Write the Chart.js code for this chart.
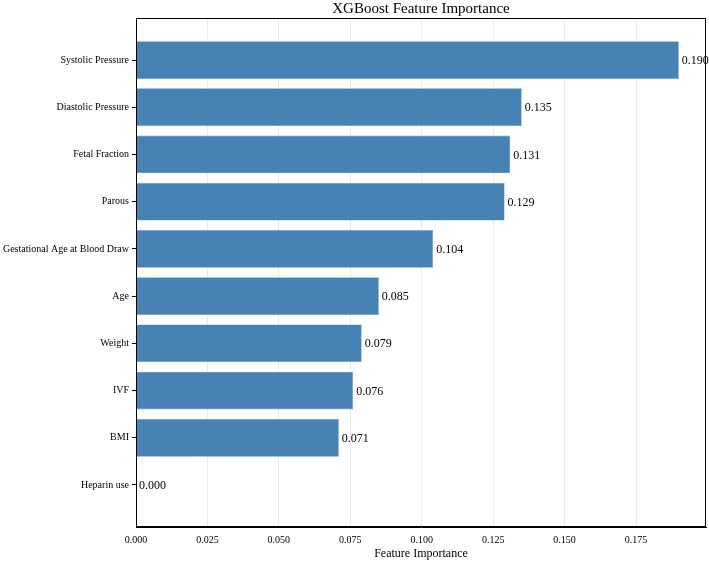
<!DOCTYPE html>
<html>
<head>
<meta charset="utf-8">
<script src="https://cdn.jsdelivr.net/npm/chart.js@4.4.0/dist/chart.umd.min.js"></script>
<style>
  html, body { margin: 0; padding: 0; background: #fff; }
  #wrap { width: 709px; height: 561px; }
</style>
</head>
<body>
<div id="wrap"><canvas id="myChart"></canvas></div>
<script>
// Feature importances, top to bottom as in the figure
const features = ['Systolic Pressure', 'Diastolic Pressure', 'Fetal Fraction', 'Parous',
  'Gestational Age at Blood Draw', 'Age', 'Weight', 'IVF', 'BMI', 'Heparin use']
const importance = [0.190, 0.135, 0.131, 0.129, 0.104, 0.085, 0.079, 0.076, 0.071, 0.000]
const xTicks = [0, 0.025, 0.05, 0.075, 0.1, 0.125, 0.15, 0.175]

const serif = '"Liberation Serif", "Times New Roman", serif'

// Frame, title and value labels, matplotlib style
const extras = {
  id: 'extras',
  afterDraw (chart) {
    const { ctx, chartArea: a } = chart
    ctx.save()
    ctx.strokeStyle = '#000'
    ctx.lineWidth = 1
    ctx.strokeRect(a.left + 0.5, a.top + 0.5, a.right - a.left - 1, a.bottom - a.top - 1)

    ctx.fillStyle = '#000'
    ctx.font = '15px ' + serif
    ctx.textAlign = 'center'
    ctx.textBaseline = 'middle'
    ctx.fillText('XGBoost Feature Importance', (a.left + a.right) / 2, 9)

    ctx.font = '12px ' + serif
    ctx.textAlign = 'left'
    chart.getDatasetMeta(0).data.forEach((bar, i) => {
      ctx.fillText(importance[i].toFixed(3), bar.x + 3, bar.y + 1)
    })
    ctx.restore()
  }
}

const ctx = document.getElementById('myChart')
new Chart(ctx, {
  type: 'bar',
  data: {
    datasets: [{
      data: importance.map((v, i) => ({ x: v, y: i })),
      backgroundColor: 'rgba(70, 130, 180, 1)',
      borderColor: 'rgba(100, 155, 205, 1)',
      borderWidth: 0.6,
      barPercentage: 0.8,
      categoryPercentage: 1
    }]
  },
  plugins: [extras],
  options: {
    indexAxis: 'y',
    responsive: true,
    maintainAspectRatio: false,
    animation: false,
    layout: { padding: { top: 18, right: 3, left: 0, bottom: 0 } },
    plugins: {
      legend: { display: false },
      tooltip: { enabled: false }
    },
    scales: {
      x: {
        type: 'linear',
        min: 0,
        max: 0.1995,
        afterBuildTicks: (scale) => { scale.ticks = xTicks.map(v => ({ value: v })) },
        afterFit: (scale) => { scale.height = 34 },
        ticks: {
          color: '#000',
          font: { family: serif, size: 10 },
          padding: 7,
          maxRotation: 0,
          callback: (v) => Number(v).toFixed(3)
        },
        grid: { color: '#e6e6e6', lineWidth: 0.8, drawTicks: false },
        border: { color: '#000', width: 1 },
        title: {
          display: true,
          text: 'Feature Importance',
          color: '#000',
          font: { family: serif, size: 12 },
          padding: { top: 0, bottom: 0 }
        }
      },
      y: {
        type: 'linear',
        reverse: true,
        offset: false,
        min: -0.89,
        max: 9.89,
        afterBuildTicks: (scale) => { scale.ticks = features.map((_, i) => ({ value: i })) },
        afterFit: (scale) => { scale.width = 136 },
        ticks: {
          color: '#000',
          font: { family: serif, size: 10 },
          padding: 3,
          callback: (v) => features[v]
        },
        grid: { offset: false, drawOnChartArea: false, drawTicks: true, tickLength: 4, tickColor: '#000' },
        border: { color: '#000', width: 1 }
      }
    }
  }
})
</script>
</body>
</html>
